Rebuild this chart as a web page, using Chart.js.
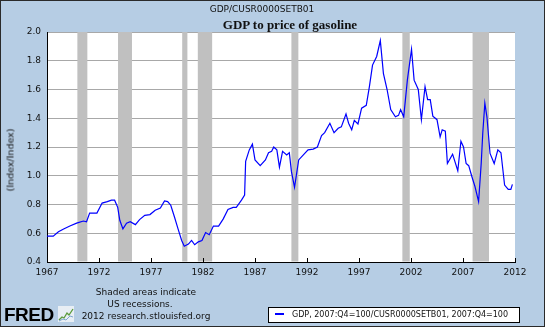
<!DOCTYPE html>
<html>
<head>
<meta charset="utf-8">
<script src="https://cdn.jsdelivr.net/npm/chart.js@4/dist/chart.umd.min.js"></script>
<style>
  body { margin: 0; background: #fff; }
  #frame { position: relative; width: 545px; height: 327px; background: #b6cde4; overflow: hidden; font-family: 'DejaVu Sans', sans-serif; color: #111; }
  #frame canvas { position: absolute; left: 0; top: 0; }
  .txt { position: absolute; white-space: nowrap; }
  #border { position: absolute; left: 0; top: 0; width: 543px; height: 325px; border: 1px solid #2a2a2a; pointer-events: none; }
</style>
</head>
<body>
<div id="frame">
  <canvas id="gdpChart" width="545" height="327"></canvas>
  <div class="txt" style="left:162px; top:4px; width:200px; text-align:center; font-size:9px; line-height:11px;">GDP/CUSR0000SETB01</div>
  <div class="txt" style="left:190px; top:17px; width:200px; text-align:center; font-family:'Liberation Serif', serif; font-weight:bold; font-size:13px; line-height:15px;">GDP to price of gasoline</div>
  <div class="txt" style="left:10px; top:160px; font-size:9.5px; transform:translate(-50%,-50%) rotate(-90deg);">(Index/Index)</div>
  <div class="txt" style="left:46px; top:286px; width:200px; text-align:center; font-size:9px; line-height:12px;">Shaded areas indicate</div>
  <div class="txt" style="left:40px; top:298px; width:200px; text-align:center; font-size:9px; line-height:12px;">US recessions.</div>
  <div class="txt" style="left:46px; top:310px; width:200px; text-align:center; font-size:9px; line-height:12px;">2012 research.stlouisfed.org</div>
  <div class="txt" style="left:4px; top:305px; font-family:'Liberation Sans', Arial, sans-serif; font-weight:bold; font-size:19px; line-height:19px; letter-spacing:-0.5px; color:#000;">FRED</div>
  <svg class="txt" style="left:58px; top:306px;" width="16" height="16" viewBox="0 0 16 16">
    <rect x="0" y="0" width="16" height="16" fill="#e8eef4"/>
    <polyline points="1,14 4,11 6,12 9,7 11,9 15,3" fill="none" stroke="#5a9a3a" stroke-width="1.3"/>
    <polyline points="1,15 5,13 8,14 12,10 15,11" fill="none" stroke="#7fa7cf" stroke-width="1"/>
  </svg>
  <div class="txt" style="left:268px; top:307px; width:250px; height:14px; background:#fff; border:1px solid #000;">
    <div class="txt" style="left:6px; top:5px; width:9px; height:2px; background:#0000ff;"></div>
    <div class="txt" style="left:23px; top:1px; font-size:8px; line-height:11px;">GDP, 2007:Q4=100/CUSR0000SETB01, 2007:Q4=100</div>
  </div>
  <div id="border"></div>
</div>
<script>
// Datos: año (decimal) y cociente GDP / precio de gasolina
const years = [
  1967.0, 1967.6, 1968.1, 1968.6, 1969.2, 1969.85, 1970.5, 1970.8, 1971.1, 1971.8,
  1972.3, 1972.8, 1973.2, 1973.5, 1973.8, 1974.0, 1974.3, 1974.65, 1975.0, 1975.5,
  1975.9, 1976.4, 1976.9, 1977.4, 1977.9, 1978.3, 1978.6, 1978.9, 1979.25, 1979.6,
  1979.95, 1980.2, 1980.6, 1980.9, 1981.2, 1981.55, 1981.9, 1982.25, 1982.6, 1983.0,
  1983.5, 1983.95, 1984.4, 1984.9, 1985.2, 1985.7, 1986.0, 1986.1, 1986.45, 1986.75,
  1987.0, 1987.5, 1988.0, 1988.3, 1988.6, 1988.8, 1989.1, 1989.35, 1989.65, 1990.05,
  1990.3, 1990.5, 1990.8, 1991.0, 1991.2, 1991.65, 1992.1, 1992.6, 1993.0, 1993.4,
  1993.7, 1994.2, 1994.6, 1995.0, 1995.3, 1995.75, 1996.0, 1996.3, 1996.55, 1996.9,
  1997.25, 1997.7, 1998.0, 1998.3, 1998.7, 1999.05, 1999.35, 1999.7, 2000.05, 2000.5,
  2000.8, 2001.0, 2001.3, 2001.65, 2002.05, 2002.3, 2002.7, 2003.0, 2003.35, 2003.6,
  2003.85, 2004.1, 2004.5, 2004.8, 2005.0, 2005.3, 2005.5, 2006.0, 2006.5, 2006.8,
  2007.05, 2007.3, 2007.55, 2007.85, 2008.15, 2008.5, 2008.75, 2008.9, 2009.1, 2009.3,
  2009.6, 2010.0, 2010.35, 2010.65, 2011.0, 2011.35, 2011.6, 2011.75
];
const ratio = [
  0.58, 0.58, 0.61, 0.63, 0.65, 0.67, 0.685, 0.68, 0.74, 0.74,
  0.81, 0.82, 0.83, 0.83, 0.78, 0.69, 0.63, 0.67, 0.68, 0.66,
  0.695, 0.725, 0.73, 0.76, 0.775, 0.825, 0.82, 0.795, 0.715, 0.63,
  0.55, 0.51, 0.525, 0.55, 0.52, 0.54, 0.55, 0.605, 0.59, 0.65,
  0.65, 0.70, 0.765, 0.78, 0.78, 0.83, 0.865, 1.10, 1.18, 1.22,
  1.11, 1.07, 1.11, 1.16, 1.17, 1.20, 1.18, 1.06, 1.17, 1.145,
  1.16, 1.03, 0.92, 1.015, 1.11, 1.145, 1.18, 1.185, 1.20, 1.28,
  1.30, 1.365, 1.30, 1.33, 1.34, 1.43, 1.365, 1.32, 1.385, 1.36,
  1.47, 1.49, 1.62, 1.77, 1.83, 1.94, 1.71, 1.60, 1.46, 1.41,
  1.42, 1.46, 1.41, 1.665, 1.88, 1.665, 1.60, 1.39, 1.62, 1.53,
  1.53, 1.415, 1.39, 1.27, 1.32, 1.31, 1.085, 1.15, 1.035, 1.24,
  1.20, 1.085, 1.07, 0.995, 0.925, 0.82, 1.085, 1.295, 1.505, 1.41,
  1.155, 1.085, 1.18, 1.16, 0.935, 0.905, 0.905, 0.94
];

// Recesiones de EE.UU. (inicio y fin en año decimal)
const recessionStart = [1969.92, 1973.83, 1980.0, 1981.5, 1990.5, 2001.17, 2007.92];
const recessionEnd = [1970.88, 1975.17, 1980.5, 1982.88, 1991.17, 2001.88, 2009.5];

// Ejes
const xMin = 1967, xMax = 2012, xStep = 5;
const yMin = 0.4, yMax = 2.0, yStep = 0.2;

Chart.defaults.font.family = "'DejaVu Sans', sans-serif";
Chart.defaults.color = '#111';

// Plugin para fondo blanco, barras de recesión y marcas del eje x
const fredPlugin = {
    id: 'fredPlugin',
    beforeDraw(chart) {
        const a = chart.chartArea;
        const ctx = chart.ctx;
        ctx.save();
        ctx.fillStyle = '#ffffff';
        ctx.fillRect(a.left, a.top, a.right - a.left, a.bottom - a.top);
        ctx.restore();
    },
    beforeDatasetsDraw(chart) {
        const a = chart.chartArea;
        const x = chart.scales.x;
        const ctx = chart.ctx;
        ctx.save();
        ctx.fillStyle = '#c0c0c0';
        recessionStart.forEach((s, i) => {
            const x0 = x.getPixelForValue(s);
            const x1 = x.getPixelForValue(recessionEnd[i]);
            ctx.fillRect(x0, a.top, x1 - x0, a.bottom - a.top - 0.5);
        });
        // marcas hacia dentro en el eje x
        ctx.strokeStyle = '#000';
        ctx.lineWidth = 1;
        x.ticks.forEach(t => {
            const px = Math.round(x.getPixelForValue(t.value)) + 0.5;
            ctx.beginPath();
            ctx.moveTo(px, a.bottom);
            ctx.lineTo(px, a.bottom - 4);
            ctx.stroke();
        });
        ctx.restore();
    }
};

const ctx = document.getElementById('gdpChart').getContext('2d');
const gdpChart = new Chart(ctx, {
    type: 'line',
    data: {
        datasets: [{
            label: 'GDP, 2007:Q4=100/CUSR0000SETB01, 2007:Q4=100',
            data: years.map((yr, i) => ({ x: yr, y: ratio[i] })),
            borderColor: '#0000ff',
            borderWidth: 1.2,
            pointRadius: 0,
            tension: 0,
            fill: false
        }]
    },
    options: {
        responsive: false,
        animation: false,
        devicePixelRatio: 1,
        layout: {
            padding: { top: 32, right: 30, bottom: 45, left: 0 }
        },
        plugins: {
            legend: { display: false },
            tooltip: { enabled: false }
        },
        scales: {
            x: {
                type: 'linear',
                min: xMin,
                max: xMax,
                afterFit: scale => { scale.height = 20; },
                ticks: {
                    stepSize: xStep,
                    maxRotation: 0,
                    padding: 5,
                    font: { size: 9 },
                    callback: v => String(v)
                },
                grid: { display: false, drawTicks: false },
                border: { display: true, color: '#000', width: 1 }
            },
            y: {
                min: yMin,
                max: yMax,
                afterFit: scale => { scale.width = 47; },
                ticks: {
                    stepSize: yStep,
                    padding: 6,
                    font: { size: 9 },
                    callback: v => Number(v).toFixed(1)
                },
                grid: { color: '#a8a8a8', lineWidth: 1, drawTicks: false },
                border: { display: true, color: '#000', width: 1 }
            }
        }
    },
    plugins: [fredPlugin]
});
</script>
</body>
</html>
